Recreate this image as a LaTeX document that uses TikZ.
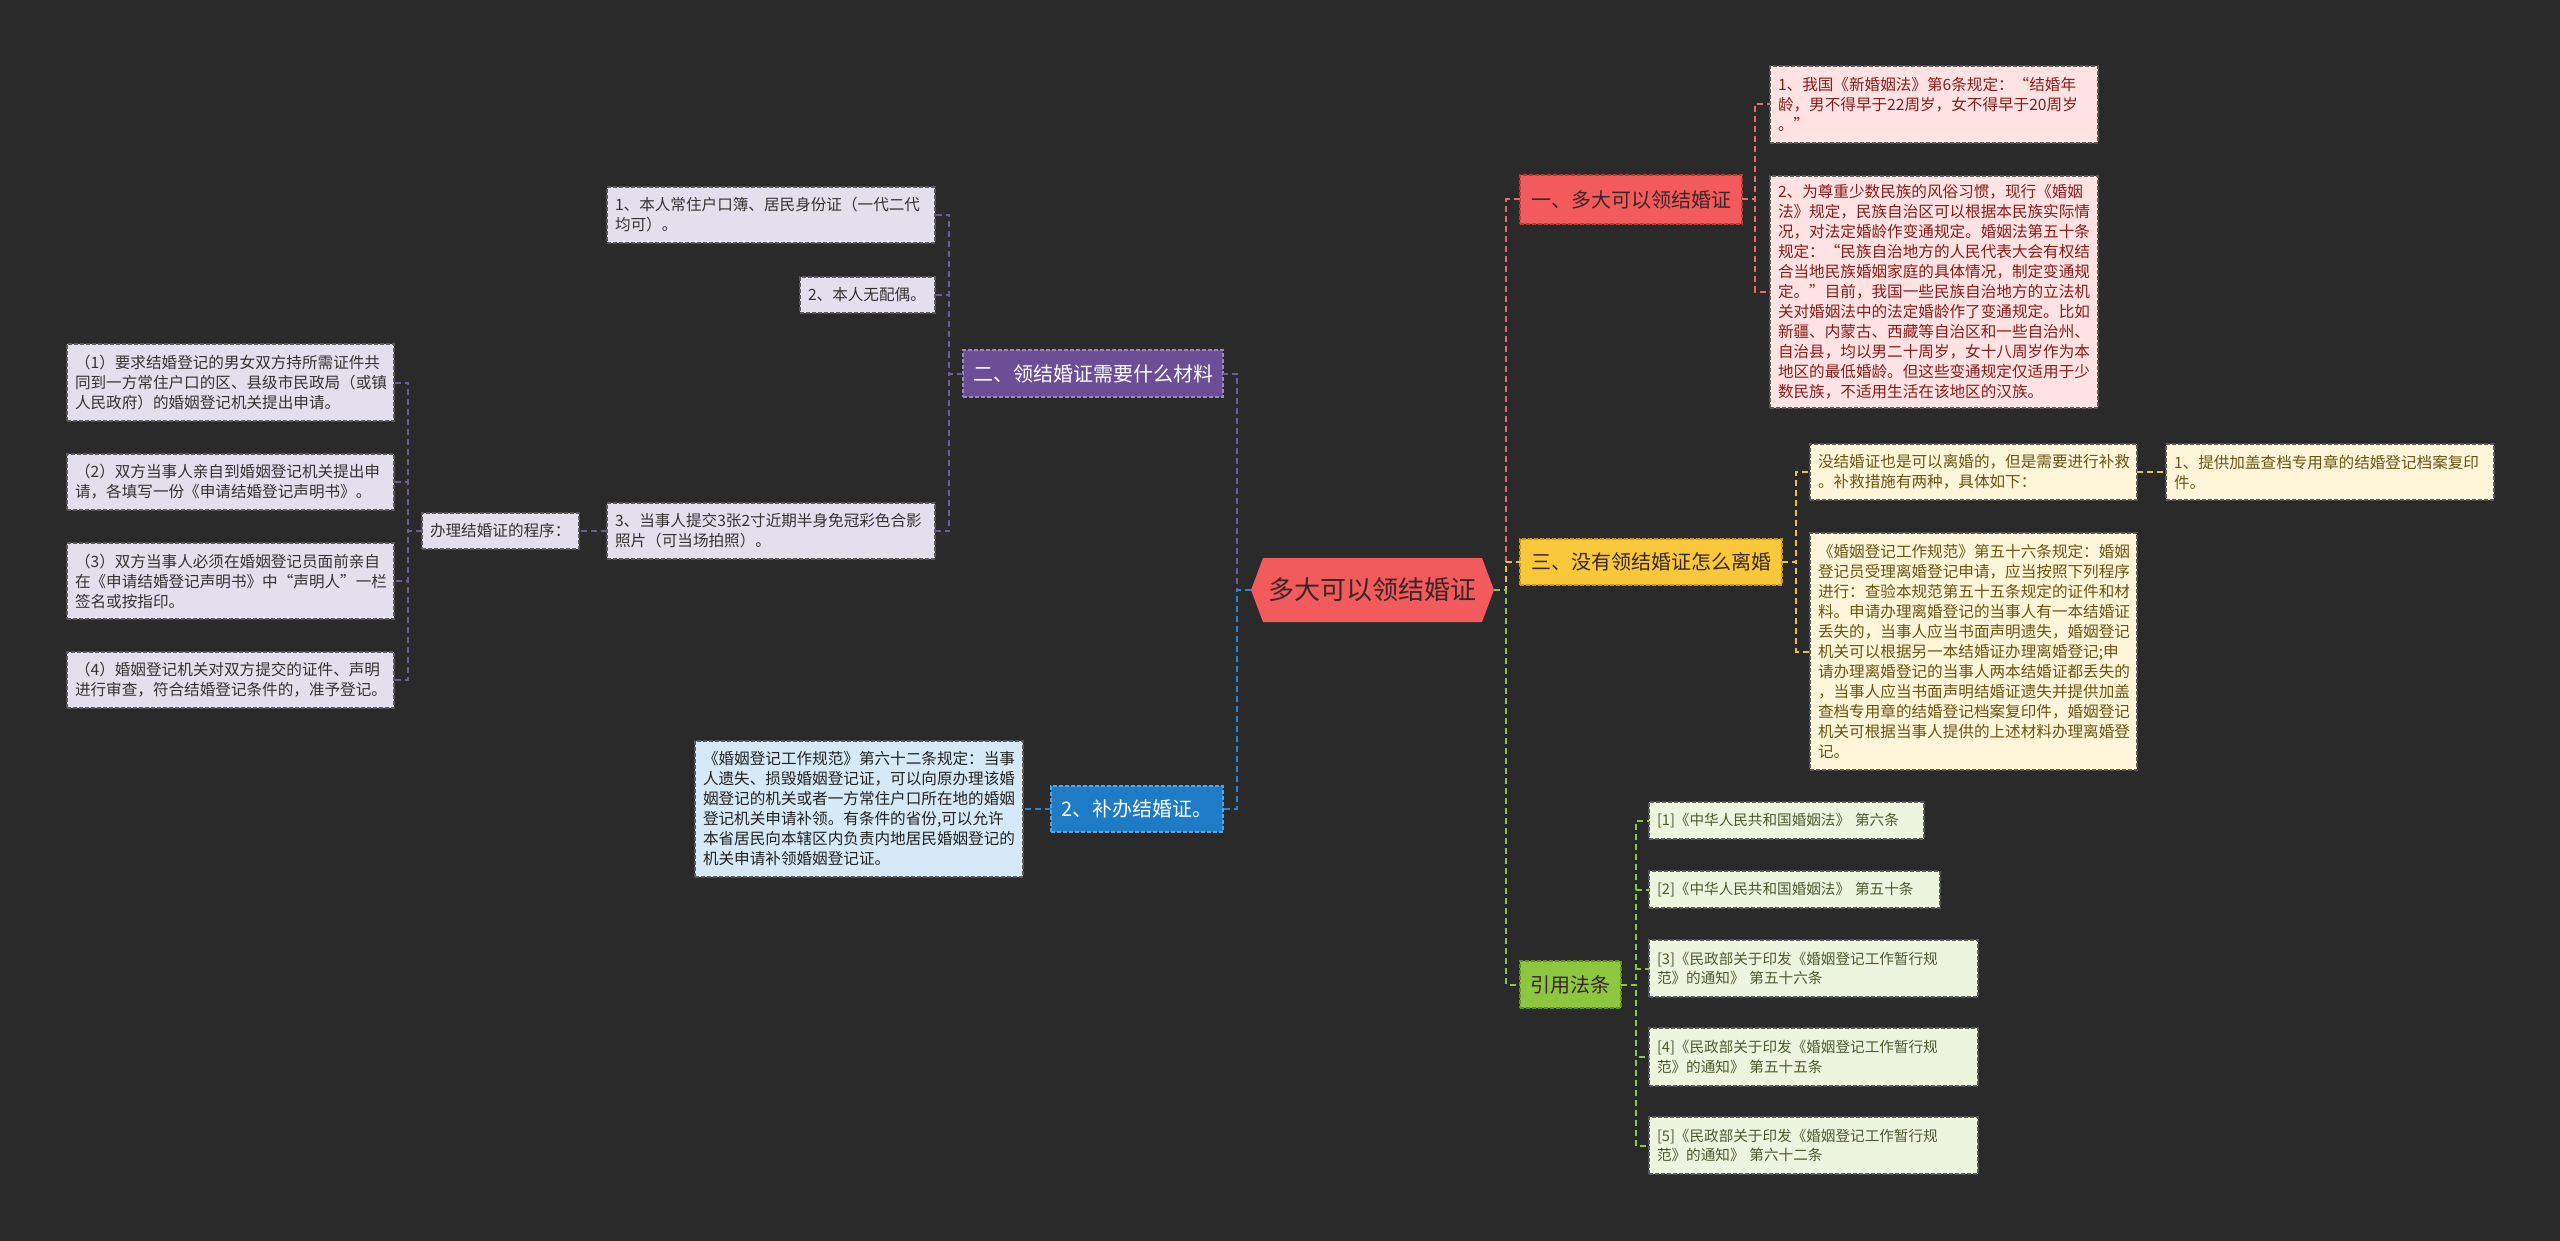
\documentclass[tikz,border=0pt]{standalone}
\usepackage{fontspec}
\newfontfamily\cjk{Noto Sans CJK SC}
\usetikzlibrary{calc}
\definecolor{bgc}{HTML}{2A2A2A}
\definecolor{rootc}{HTML}{F25A5C}
\definecolor{redM}{HTML}{F25A5C}
\definecolor{redD}{HTML}{B83A3A}
\definecolor{redL}{HTML}{FFE3E3}
\definecolor{redT}{HTML}{8B1A1A}
\definecolor{redC}{HTML}{E86A6A}
\definecolor{yelM}{HTML}{F9C83A}
\definecolor{yelD}{HTML}{C9961A}
\definecolor{yelL}{HTML}{FFF5D8}
\definecolor{yelT}{HTML}{6B5414}
\definecolor{yelC}{HTML}{EBC03C}
\definecolor{grnM}{HTML}{8DC63F}
\definecolor{grnD}{HTML}{5F8F25}
\definecolor{grnL}{HTML}{EEF5DF}
\definecolor{grnT}{HTML}{4B5A2E}
\definecolor{grnC}{HTML}{8DC63F}
\definecolor{purM}{HTML}{6B4E96}
\definecolor{purD}{HTML}{9A88BC}
\definecolor{purL}{HTML}{E4DFEC}
\definecolor{purT}{HTML}{333333}
\definecolor{purC}{HTML}{6E5C99}
\definecolor{bluM}{HTML}{1E7CC6}
\definecolor{bluD}{HTML}{5AA2DA}
\definecolor{bluL}{HTML}{D6E9F6}
\definecolor{bluT}{HTML}{222222}
\definecolor{bluC}{HTML}{2A86CF}
\definecolor{detB}{HTML}{5A5A5A}
\definecolor{darkT}{HTML}{3A2626}
\tikzset{
  detbox/.style={inner xsep=4pt, inner ysep=0pt, outer sep=0pt, align=left,
    draw=detB, line width=0.6pt, dash pattern=on 2pt off 1pt,
    font=\cjk\fontsize{7.8}{10}\selectfont},
  brbox/.style={inner xsep=4pt, inner ysep=0pt, outer sep=0pt, align=center,
    line width=0.6pt, dash pattern=on 2pt off 1pt,
    font=\cjk\fontsize{10}{12}\selectfont},
  reddet/.style={detbox, fill=redL, text=redT},
  yeldet/.style={detbox, fill=yelL, text=yelT},
  grndet/.style={detbox, fill=grnL, text=grnT, font=\cjk\fontsize{7.3}{9.6}\selectfont},
  purdet/.style={detbox, fill=purL, text=purT},
  bludet/.style={detbox, fill=bluL, text=bluT},
  redbr/.style={brbox, fill=redM, draw=redD, text=darkT},
  yelbr/.style={brbox, fill=yelM, draw=yelD, text=darkT},
  grnbr/.style={brbox, fill=grnM, draw=grnD, text=darkT},
  purbr/.style={brbox, fill=purM, draw=purD, text=white},
  blubr/.style={brbox, fill=bluM, draw=bluD, text=white},
  conn/.style={line width=1pt, dash pattern=on 3pt off 2pt},
}
% style, name, x1, y1, x2, y2, text  (pixel coordinates)
\newcommand{\bx}[7]{%
  \pgfmathsetmacro{\bxw}{(#5-#3)*0.5}%
  \pgfmathsetmacro{\bxh}{(#6-#4)*0.5}%
  \pgfmathsetmacro{\bxtw}{(#5-#3)*0.5-8}%
  \node[#1, minimum width=\bxw pt, minimum height=\bxh pt, text width=\bxtw pt] (#2) at ({(#3+#5)/2},{(#4+#6)/2}) {#7};%
}
\begin{document}
\begin{tikzpicture}[x=0.5pt,y=-0.5pt]
\fill[bgc] (0,0) rectangle (2560,1241);
\useasboundingbox (0,0) rectangle (2560,1241);

% root
\fill[rootc] (1251,590) -- (1263,558) -- (1482,558) -- (1494,590) -- (1482,622) -- (1263,622) -- cycle;
\node[font=\cjk\fontsize{13}{15}\selectfont, text=darkT, inner sep=0pt] (root) at (1372,590) {多大可以领结婚证};
\coordinate (rootL) at (1251,590);
\coordinate (rootR) at (1494,590);

% main branches
\bx{redbr}{n1}{1520}{175}{1742}{224}{一、多大可以领结婚证}
\bx{yelbr}{n3}{1520}{539}{1782}{585}{三、没有领结婚证怎么离婚}
\bx{grnbr}{ng}{1520}{961}{1621}{1008}{引用法条}
\bx{purbr}{p2}{963}{350}{1223}{397}{二、领结婚证需要什么材料}
\bx{blubr}{b2}{1051}{786}{1223}{832}{2、补办结婚证。}

% red details
\bx{reddet}{r1}{1770}{66}{2098}{143}{1、我国《新婚姻法》第6条规定：“结婚年\\龄，男不得早于22周岁，女不得早于20周岁\\。”}
\bx{reddet}{r2}{1770}{176}{2098}{408}{2、为尊重少数民族的风俗习惯，现行《婚姻\\法》规定，民族自治区可以根据本民族实际情\\况，对法定婚龄作变通规定。婚姻法第五十条\\规定：“民族自治地方的人民代表大会有权结\\合当地民族婚姻家庭的具体情况，制定变通规\\定。”目前，我国一些民族自治地方的立法机\\关对婚姻法中的法定婚龄作了变通规定。比如\\新疆、内蒙古、西藏等自治区和一些自治州、\\自治县，均以男二十周岁，女十八周岁作为本\\地区的最低婚龄。但这些变通规定仅适用于少\\数民族，不适用生活在该地区的汉族。}

% yellow details
\bx{yeldet}{ya}{1810}{444}{2137}{500}{没结婚证也是可以离婚的，但是需要进行补救\\。补救措施有两种，具体如下：}
\bx{yeldet}{yb}{2166}{444}{2494}{500}{1、提供加盖查档专用章的结婚登记档案复印\\件。}
\bx{yeldet}{yc}{1810}{533}{2137}{770}{《婚姻登记工作规范》第五十六条规定：婚姻\\登记员受理离婚登记申请，应当按照下列程序\\进行：查验本规范第五十五条规定的证件和材\\料。申请办理离婚登记的当事人有一本结婚证\\丢失的，当事人应当书面声明遗失，婚姻登记\\机关可以根据另一本结婚证办理离婚登记;申\\请办理离婚登记的当事人两本结婚证都丢失的\\，当事人应当书面声明结婚证遗失并提供加盖\\查档专用章的结婚登记档案复印件，婚姻登记\\机关可根据当事人提供的上述材料办理离婚登\\记。}

% green citations
\bx{grndet}{c1}{1649}{802}{1924}{839}{[1]《中华人民共和国婚姻法》 第六条}
\bx{grndet}{c2}{1649}{871}{1940}{908}{[2]《中华人民共和国婚姻法》 第五十条}
\bx{grndet}{c3}{1649}{940}{1978}{997}{[3]《民政部关于印发《婚姻登记工作暂行规\\范》的通知》 第五十六条}
\bx{grndet}{c4}{1649}{1028}{1978}{1086}{[4]《民政部关于印发《婚姻登记工作暂行规\\范》的通知》 第五十五条}
\bx{grndet}{c5}{1649}{1117}{1978}{1174}{[5]《民政部关于印发《婚姻登记工作暂行规\\范》的通知》 第六十二条}

% purple details
\bx{purdet}{i1}{607}{187}{935}{243}{1、本人常住户口簿、居民身份证（一代二代\\均可）。}
\bx{purdet}{i2}{800}{277}{935}{313}{2、本人无配偶。}
\bx{purdet}{i3}{607}{503}{935}{559}{3、当事人提交3张2寸近期半身免冠彩色合影\\照片（可当场拍照）。}
\bx{purdet}{pr}{422}{513}{579}{549}{办理结婚证的程序：}
\bx{purdet}{q1}{67}{344}{394}{421}{（1）要求结婚登记的男女双方持所需证件共\\同到一方常住户口的区、县级市民政局（或镇\\人民政府）的婚姻登记机关提出申请。}
\bx{purdet}{q2}{67}{454}{394}{510}{（2）双方当事人亲自到婚姻登记机关提出申\\请，各填写一份《申请结婚登记声明书》。}
\bx{purdet}{q3}{67}{543}{394}{619}{（3）双方当事人必须在婚姻登记员面前亲自\\在《申请结婚登记声明书》中“声明人”一栏\\签名或按指印。}
\bx{purdet}{q4}{67}{652}{394}{708}{（4）婚姻登记机关对双方提交的证件、声明\\进行审查，符合结婚登记条件的，准予登记。}

% blue detail
\bx{bludet}{bd}{695}{741}{1023}{877}{《婚姻登记工作规范》第六十二条规定：当事\\人遗失、损毁婚姻登记证，可以向原办理该婚\\姻登记的机关或者一方常住户口所在地的婚姻\\登记机关申请补领。有条件的省份,可以允许\\本省居民向本辖区内负责内地居民婚姻登记的\\机关申请补领婚姻登记证。}

% connectors
\draw[conn, draw=redC] (rootR) -- ++(12,0) |- (n1.west);
\draw[conn, draw=yelC] (rootR) -- ++(12,0) |- (n3.west);
\draw[conn, draw=grnC] (rootR) -- ++(12,0) |- (ng.west);
\draw[conn, draw=purC] (rootL) -- ++(-14,0) |- (p2.east);
\draw[conn, draw=bluC] (rootL) -- ++(-14,0) |- (b2.east);

\draw[conn, draw=redC] (n1.east) -- ++(13,0) |- (r1.west);
\draw[conn, draw=redC] (n1.east) -- ++(13,0) |- (r2.west);

\draw[conn, draw=yelC] (n3.east) -- ++(14,0) |- (ya.west);
\draw[conn, draw=yelC] (n3.east) -- ++(14,0) |- (yc.west);
\draw[conn, draw=yelC] (ya.east) -- (yb.west);

\foreach \c in {c1,c2,c3,c4,c5}
  \draw[conn, draw=grnC] (ng.east) -- ++(15,0) |- (\c.west);

\foreach \c in {i1,i2,i3}
  \draw[conn, draw=purC] (p2.west) -- ++(-14,0) |- (\c.east);
\draw[conn, draw=purC] (i3.west) -- (pr.east);
\foreach \c in {q1,q2,q3,q4}
  \draw[conn, draw=purC] (pr.west) -- ++(-14,0) |- (\c.east);

\draw[conn, draw=bluC] (b2.west) -- (bd.east);
\end{tikzpicture}
\end{document}
